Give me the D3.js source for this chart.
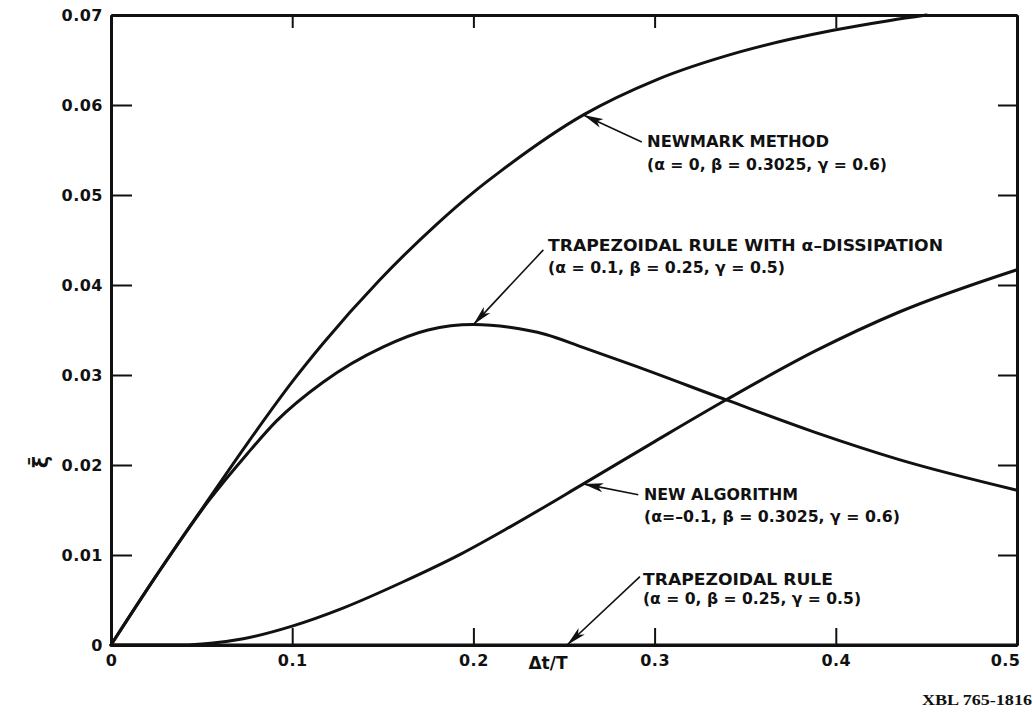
<!DOCTYPE html>
<html>
<head>
<meta charset="utf-8">
<script src="https://cdn.jsdelivr.net/npm/d3@7"></script>
<style>
  html, body { margin: 0; padding: 0; background: #fff; }
  svg { display: block; }
  text { fill: #111; }
</style>
</head>
<body>
<svg id="chart" width="1033" height="714"></svg>
<script>
// ---------- data ----------
const xTickValues = [0, 0.1, 0.2, 0.3, 0.4, 0.5];
const xTickLabels = ["0", "0.1", "0.2", "0.3", "0.4", "0.5"];
const yTickValues = [0, 0.01, 0.02, 0.03, 0.04, 0.05, 0.06, 0.07];
const yTickLabels = ["0", "0.01", "0.02", "0.03", "0.04", "0.05", "0.06", "0.07"];

// Newmark method (α=0, β=0.3025, γ=0.6)
const newmark = [
  [0, 0], [0.025, 0.0077], [0.0546, 0.0164], [0.0749, 0.0223], [0.1006, 0.0294],
  [0.117, 0.0335], [0.148, 0.0405], [0.18, 0.0468], [0.2, 0.0503], [0.2147, 0.0526],
  [0.2607, 0.0589], [0.301, 0.0628], [0.347, 0.0659], [0.3986, 0.0683],
  [0.43, 0.0694], [0.45, 0.0700]
];
// Trapezoidal rule with α-dissipation (α=0.1, β=0.25, γ=0.5)
const trapAlpha = [
  [0, 0], [0.025, 0.0077], [0.0546, 0.0162], [0.075, 0.0212], [0.0914, 0.0249],
  [0.117, 0.0292], [0.15, 0.0331], [0.175, 0.0350], [0.2, 0.0356], [0.22, 0.0353],
  [0.24, 0.0345], [0.26, 0.0331], [0.288, 0.0311], [0.34, 0.0272], [0.389, 0.0236],
  [0.435, 0.0206], [0.5, 0.0172]
];
// New algorithm (α=-0.1, β=0.3025, γ=0.6)
const newAlgo = [
  [0, 0], [0.04, 0.0], [0.055, 0.0002], [0.073, 0.0007], [0.1, 0.0021],
  [0.128, 0.0041], [0.161, 0.0070], [0.193, 0.0101], [0.22, 0.0131],
  [0.2607, 0.0179], [0.30, 0.0226], [0.34, 0.0273], [0.389, 0.0327],
  [0.435, 0.0370], [0.5, 0.0417]
];
// Trapezoidal rule (α=0, β=0.25, γ=0.5)
const trapRule = [[0, 0], [0.25, 0], [0.5, 0]];

// annotations: [tip, tail] in data coordinates
const annotations = [
  { lines: ["NEWMARK METHOD", "(α = 0, β = 0.3025, γ = 0.6)"], tip: [0.2607, 0.0589], tail: [0.2929, 0.0559] },
  { lines: ["TRAPEZOIDAL RULE WITH α–DISSIPATION", "(α = 0.1, β = 0.25, γ = 0.5)"], tip: [0.2, 0.0356], tail: [0.2386, 0.0439] },
  { lines: ["NEW ALGORITHM", "(α=–0.1, β = 0.3025, γ = 0.6)"], tip: [0.2607, 0.0179], tail: [0.291, 0.0167] },
  { lines: ["TRAPEZOIDAL RULE", "(α = 0, β = 0.25, γ = 0.5)"], tip: [0.2517, 0.0], tail: [0.2919, 0.0076] }
];

// ---------- layout ----------
const L = 111, R = 1017, T = 15, B = 645;
const svg = d3.select("#chart");
const x = d3.scaleLinear().domain([0, 0.5]).range([L, R]);
const y = d3.scaleLinear().domain([0, 0.07]).range([B, T]);

const font = "'DejaVu Sans', sans-serif";

svg.append("defs").append("marker")
  .attr("id", "arrow").attr("viewBox", "0 0 20 10")
  .attr("refX", 20).attr("refY", 5)
  .attr("markerWidth", 20).attr("markerHeight", 10)
  .attr("markerUnits", "userSpaceOnUse")
  .attr("orient", "auto")
  .append("path").attr("d", "M0,0.5 L20,5 L0,9.5 L5,5 Z").attr("fill", "#111");

// axes
const axisStyle = g => {
  g.select(".domain").attr("stroke", "#111").attr("stroke-width", 3);
  g.selectAll(".tick line").attr("stroke", "#111").attr("stroke-width", 2);
  g.selectAll(".tick text").attr("font-family", font).attr("font-weight", "bold")
    .attr("font-size", 16).attr("letter-spacing", "0.5px").attr("fill", "#111");
};

svg.append("g").attr("transform", `translate(0,${B})`)
  .call(d3.axisBottom(x).tickValues(xTickValues).tickFormat((d, i) => xTickLabels[i])
    .tickSizeInner(-17).tickSizeOuter(0).tickPadding(10))
  .call(axisStyle)
  .call(g => g.selectAll(".tick text").filter((d, i) => i === xTickValues.length - 1)
    .attr("text-anchor", "end").attr("dx", 3));

svg.append("g").attr("transform", `translate(${L},0)`)
  .call(d3.axisLeft(y).tickValues(yTickValues).tickFormat((d, i) => yTickLabels[i])
    .tickSizeInner(-21).tickSizeOuter(0).tickPadding(8))
  .call(axisStyle)
  .call(g => g.selectAll(".tick text").attr("dy", "0.36em"));

svg.append("g").attr("transform", `translate(0,${T})`)
  .call(d3.axisTop(x).tickValues(xTickValues).tickFormat("").tickSizeInner(-13).tickSizeOuter(0))
  .call(axisStyle);

svg.append("g").attr("transform", `translate(${R},0)`)
  .call(d3.axisRight(y).tickValues(yTickValues).tickFormat("").tickSizeInner(-19).tickSizeOuter(0))
  .call(axisStyle);

// curves
const line = d3.line().x(d => x(d[0])).y(d => y(d[1])).curve(d3.curveMonotoneX);
[newmark, trapAlpha, newAlgo, trapRule].forEach(s => {
  svg.append("path").datum(s).attr("d", line)
    .attr("fill", "none").attr("stroke", "#111").attr("stroke-width", 3)
    .attr("stroke-linejoin", "round").attr("stroke-linecap", "round");
});

// annotation leaders
annotations.forEach(a => {
  svg.append("line")
    .attr("x1", x(a.tail[0])).attr("y1", y(a.tail[1]))
    .attr("x2", x(a.tip[0])).attr("y2", y(a.tip[1]))
    .attr("stroke", "#111").attr("stroke-width", 1.6)
    .attr("marker-end", "url(#arrow)");
});

// annotation labels (pixel layout)
const labelLayout = [
  { x: 647, y: [147, 170], w: [182, 240] },
  { x: 548, y: [251, 273], w: [395, 237] },
  { x: 644, y: [500, 522], w: [154, 256] },
  { x: 643, y: [585, 604], w: [190, 218] }
];
annotations.forEach((a, i) => {
  const lay = labelLayout[i];
  a.lines.forEach((t, j) => {
    svg.append("text")
      .attr("x", lay.x).attr("y", lay.y[j])
      .attr("font-family", font).attr("font-weight", "bold").attr("font-size", 16)
      .attr("textLength", lay.w[j]).attr("lengthAdjust", "spacingAndGlyphs")
      .text(t);
  });
});

// axis titles
svg.append("text")
  .attr("x", 548).attr("y", 669).attr("text-anchor", "middle")
  .attr("font-family", font).attr("font-weight", "bold").attr("font-size", 17)
  .text("Δt/T");

svg.append("text")
  .attr("transform", "translate(48,462) rotate(-90)")
  .attr("text-anchor", "middle")
  .attr("font-family", font).attr("font-weight", "bold").attr("font-size", 21)
  .text("ξ̄");

svg.append("text")
  .attr("x", 922).attr("y", 705)
  .attr("font-family", "'Liberation Serif', serif").attr("font-weight", "bold").attr("font-size", 15)
  .attr("textLength", 110).attr("lengthAdjust", "spacingAndGlyphs")
  .text("XBL 765-1816");
</script>
</body>
</html>
